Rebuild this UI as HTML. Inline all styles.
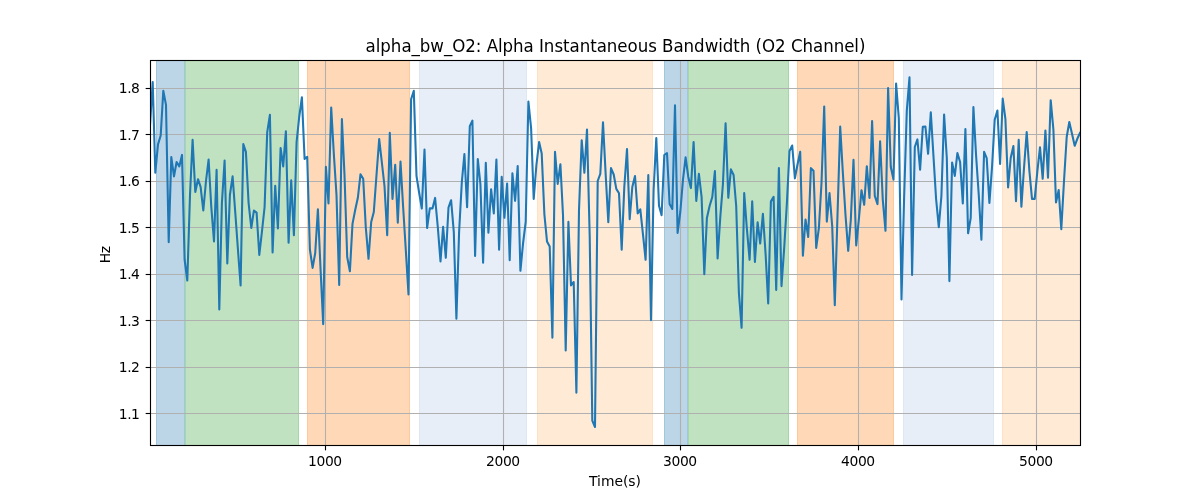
<!DOCTYPE html><html><head><meta charset="utf-8"><title>alpha_bw_O2</title>
<style>html,body{margin:0;padding:0;background:#fff;overflow:hidden}svg{display:block}text{font-family:"DejaVu Sans","Liberation Sans",sans-serif;fill:#000}</style></head><body>
<svg width="1200" height="500" viewBox="0 0 1200 500">
<rect width="1200" height="500" fill="#fff"/>
<rect x="156" y="60.5" width="29" height="385.0" fill="#bcd6e8"/>
<rect x="156" y="60.5" width="1" height="385.0" fill="#1f77b4" fill-opacity="0.17"/>
<rect x="184" y="60.5" width="1" height="385.0" fill="#1f77b4" fill-opacity="0.17"/>
<rect x="185" y="60.5" width="114" height="385.0" fill="#c0e2c0"/>
<rect x="185" y="60.5" width="1" height="385.0" fill="#2ca02c" fill-opacity="0.17"/>
<rect x="298" y="60.5" width="1" height="385.0" fill="#2ca02c" fill-opacity="0.17"/>
<rect x="307" y="60.5" width="103" height="385.0" fill="#ffd9b7"/>
<rect x="307" y="60.5" width="1" height="385.0" fill="#ff7f0e" fill-opacity="0.17"/>
<rect x="409" y="60.5" width="1" height="385.0" fill="#ff7f0e" fill-opacity="0.17"/>
<rect x="419" y="60.5" width="108" height="385.0" fill="#e7eef8"/>
<rect x="419" y="60.5" width="1" height="385.0" fill="#aec7e8" fill-opacity="0.17"/>
<rect x="526" y="60.5" width="1" height="385.0" fill="#aec7e8" fill-opacity="0.17"/>
<rect x="537" y="60.5" width="116" height="385.0" fill="#ffead6"/>
<rect x="537" y="60.5" width="1" height="385.0" fill="#ffbb78" fill-opacity="0.17"/>
<rect x="652" y="60.5" width="1" height="385.0" fill="#ffbb78" fill-opacity="0.17"/>
<rect x="664" y="60.5" width="24" height="385.0" fill="#bcd6e8"/>
<rect x="664" y="60.5" width="1" height="385.0" fill="#1f77b4" fill-opacity="0.17"/>
<rect x="687" y="60.5" width="1" height="385.0" fill="#1f77b4" fill-opacity="0.17"/>
<rect x="688" y="60.5" width="101" height="385.0" fill="#c0e2c0"/>
<rect x="688" y="60.5" width="1" height="385.0" fill="#2ca02c" fill-opacity="0.17"/>
<rect x="788" y="60.5" width="1" height="385.0" fill="#2ca02c" fill-opacity="0.17"/>
<rect x="797" y="60.5" width="97" height="385.0" fill="#ffd9b7"/>
<rect x="797" y="60.5" width="1" height="385.0" fill="#ff7f0e" fill-opacity="0.17"/>
<rect x="893" y="60.5" width="1" height="385.0" fill="#ff7f0e" fill-opacity="0.17"/>
<rect x="903" y="60.5" width="91" height="385.0" fill="#e7eef8"/>
<rect x="903" y="60.5" width="1" height="385.0" fill="#aec7e8" fill-opacity="0.17"/>
<rect x="993" y="60.5" width="1" height="385.0" fill="#aec7e8" fill-opacity="0.17"/>
<rect x="1002" y="60.5" width="78.5" height="385.0" fill="#ffead6"/>
<rect x="1002" y="60.5" width="1" height="385.0" fill="#ffbb78" fill-opacity="0.17"/>
<line x1="325.5" y1="60.5" x2="325.5" y2="445.5" stroke="#b0b0b0" stroke-width="1.11"/>
<line x1="503.5" y1="60.5" x2="503.5" y2="445.5" stroke="#b0b0b0" stroke-width="1.11"/>
<line x1="680.5" y1="60.5" x2="680.5" y2="445.5" stroke="#b0b0b0" stroke-width="1.11"/>
<line x1="858.5" y1="60.5" x2="858.5" y2="445.5" stroke="#b0b0b0" stroke-width="1.11"/>
<line x1="1036.5" y1="60.5" x2="1036.5" y2="445.5" stroke="#b0b0b0" stroke-width="1.11"/>
<line x1="150.5" y1="88.50" x2="1080.5" y2="88.50" stroke="#b0b0b0" stroke-width="1.11"/>
<line x1="150.5" y1="134.50" x2="1080.5" y2="134.50" stroke="#b0b0b0" stroke-width="1.11"/>
<line x1="150.5" y1="181.50" x2="1080.5" y2="181.50" stroke="#b0b0b0" stroke-width="1.11"/>
<line x1="150.5" y1="227.50" x2="1080.5" y2="227.50" stroke="#b0b0b0" stroke-width="1.11"/>
<line x1="150.5" y1="274.50" x2="1080.5" y2="274.50" stroke="#b0b0b0" stroke-width="1.11"/>
<line x1="150.5" y1="320.50" x2="1080.5" y2="320.50" stroke="#b0b0b0" stroke-width="1.11"/>
<line x1="150.5" y1="367.50" x2="1080.5" y2="367.50" stroke="#b0b0b0" stroke-width="1.11"/>
<line x1="150.5" y1="413.50" x2="1080.5" y2="413.50" stroke="#b0b0b0" stroke-width="1.11"/>
<clipPath id="c"><rect x="150.5" y="60.5" width="930.0" height="385.0"/></clipPath>
<polyline clip-path="url(#c)" points="150.0,125.0 152.7,82.0 155.3,172.6 158.0,144.4 160.7,135.5 163.3,90.8 166.0,104.9 168.7,242.1 171.3,157.1 174.0,176.4 176.6,162.0 179.3,166.4 182.0,154.9 184.6,259.5 187.3,280.5 190.0,195.0 192.6,139.8 195.3,192.0 198.0,179.2 200.6,186.9 203.3,210.5 206.0,181.0 208.6,159.5 211.3,207.0 214.0,241.5 216.6,169.9 219.3,309.5 221.9,203.0 224.6,160.5 227.3,263.5 229.9,195.0 232.6,176.4 235.3,213.0 237.9,249.0 240.6,285.5 243.3,144.0 245.9,151.9 248.6,203.0 251.3,228.0 253.9,210.6 256.6,212.6 259.3,255.0 261.9,232.0 264.6,207.0 267.2,132.4 269.9,114.8 272.6,252.5 275.2,185.8 277.9,228.4 280.6,148.0 283.2,166.4 285.9,131.2 288.6,242.8 291.2,180.2 293.9,235.1 296.6,142.0 299.2,117.0 301.9,97.2 304.6,158.9 307.2,156.8 309.9,249.5 312.6,267.9 315.2,253.2 317.9,209.4 320.5,268.0 323.2,324.1 325.9,166.8 328.5,203.4 331.2,107.5 333.9,155.0 336.5,195.0 339.2,285.0 341.9,119.1 344.5,175.0 347.2,257.0 349.9,271.2 352.5,223.9 355.2,210.0 357.9,197.5 360.5,174.2 363.2,178.8 365.8,227.5 368.5,258.8 371.2,222.0 373.8,212.0 376.5,175.0 379.2,139.1 381.8,162.0 384.5,186.0 387.2,235.2 389.8,132.9 392.5,198.9 395.2,164.9 397.8,222.8 400.5,161.5 403.2,208.0 405.8,250.0 408.5,294.5 411.1,99.2 413.8,90.8 416.5,176.0 419.1,192.5 421.8,208.5 424.5,149.5 427.1,228.0 429.8,208.4 432.5,208.4 435.1,197.9 437.8,227.0 440.5,261.5 443.1,226.9 445.8,257.8 448.5,207.5 451.1,200.2 453.8,232.0 456.4,318.8 459.1,232.0 461.8,182.5 464.4,154.0 467.1,207.3 469.8,126.1 472.4,120.6 475.1,255.9 477.8,159.0 480.4,184.0 483.1,262.8 485.8,162.8 488.4,232.8 491.1,189.2 493.8,213.4 496.4,159.5 499.1,249.6 501.7,176.8 504.4,217.8 507.1,183.5 509.7,260.2 512.4,173.4 515.1,200.8 517.7,166.1 520.4,270.8 523.1,243.0 525.7,222.0 528.4,101.6 531.1,128.0 533.7,198.9 536.4,165.0 539.1,142.1 541.7,153.5 544.4,214.5 547.0,241.4 549.7,246.4 552.4,337.6 555.0,151.8 557.7,183.9 560.4,164.2 563.0,215.0 565.7,350.5 568.4,221.9 571.0,285.4 573.7,282.0 576.4,392.6 579.0,210.0 581.7,140.2 584.4,172.8 587.0,129.5 589.7,236.0 592.3,420.6 595.0,427.0 597.7,181.0 600.3,173.9 603.0,122.4 605.7,175.0 608.3,222.1 611.0,168.1 613.7,174.5 616.3,188.9 619.0,193.2 621.7,249.8 624.3,187.0 627.0,149.0 629.7,219.2 632.3,187.0 635.0,176.0 637.7,213.4 640.3,209.4 643.0,234.6 645.6,259.8 648.3,175.0 651.0,320.1 653.6,190.0 656.3,138.0 659.0,205.8 661.6,215.2 664.3,155.0 667.0,153.0 669.6,203.9 672.3,209.0 675.0,105.2 677.6,232.9 680.3,212.0 683.0,179.5 685.6,157.4 688.3,177.0 690.9,188.1 693.6,142.1 696.3,200.9 698.9,173.8 701.6,197.0 704.3,274.1 706.9,218.0 709.6,206.0 712.3,197.0 714.9,171.1 717.6,258.4 720.3,217.0 722.9,184.5 725.6,123.2 728.3,197.8 730.9,169.4 733.6,175.0 736.2,206.0 738.9,293.0 741.6,327.8 744.2,193.1 746.9,229.0 749.6,259.8 752.2,201.2 754.9,262.0 757.6,222.2 760.2,243.5 762.9,213.8 765.6,254.0 768.2,303.5 770.9,201.4 773.6,196.9 776.2,289.9 778.9,168.1 781.5,286.1 784.2,247.8 786.9,203.0 789.5,151.0 792.2,145.5 794.9,178.4 797.5,164.5 800.2,151.8 802.9,255.8 805.5,219.5 808.2,237.0 810.9,168.1 813.5,170.8 816.2,247.9 818.9,227.8 821.5,183.0 824.2,106.5 826.8,221.6 829.5,193.1 832.2,226.0 834.8,305.2 837.5,215.0 840.2,126.5 842.8,172.0 845.5,215.0 848.2,250.8 850.8,220.0 853.5,159.9 856.2,245.5 858.8,220.0 861.5,190.2 864.2,204.8 866.8,166.2 869.5,197.9 872.1,121.1 874.8,196.0 877.5,204.1 880.1,141.2 882.8,200.0 885.5,230.8 888.1,88.0 890.8,167.0 893.5,179.6 896.1,83.6 898.8,118.0 901.5,299.5 904.1,198.0 906.8,110.6 909.5,77.4 912.1,274.9 914.8,147.0 917.4,139.4 920.1,169.6 922.8,126.8 925.4,126.5 928.1,153.8 930.8,112.4 933.4,155.0 936.1,199.0 938.8,227.2 941.4,196.0 944.1,114.5 946.8,158.0 949.4,281.1 952.1,162.5 954.8,175.9 957.4,153.1 960.1,162.0 962.8,203.5 965.4,129.0 968.1,233.2 970.7,218.0 973.4,107.1 976.1,155.8 978.7,194.0 981.4,239.8 984.1,151.9 986.7,158.2 989.4,202.9 992.1,166.0 994.7,119.7 997.4,110.5 1000.1,164.0 1002.7,98.6 1005.4,118.8 1008.1,187.5 1010.7,158.0 1013.4,146.1 1016.0,201.3 1018.7,139.9 1021.4,206.6 1024.0,168.0 1026.7,132.0 1029.4,171.0 1032.0,198.9 1034.7,198.9 1037.4,171.0 1040.0,147.4 1042.7,178.8 1045.4,130.5 1048.0,177.8 1050.7,100.2 1053.4,129.5 1056.0,202.5 1058.7,190.0 1061.3,229.2 1064.0,181.0 1066.7,137.0 1069.3,122.0 1072.0,133.8 1074.7,145.8 1077.3,138.8 1080.0,133.0" fill="none" stroke="#1f77b4" stroke-width="2.08" stroke-linejoin="round" stroke-linecap="square"/>
<line x1="325.5" y1="445.5" x2="325.5" y2="450.36" stroke="#000" stroke-width="1.11"/>
<line x1="503.5" y1="445.5" x2="503.5" y2="450.36" stroke="#000" stroke-width="1.11"/>
<line x1="680.5" y1="445.5" x2="680.5" y2="450.36" stroke="#000" stroke-width="1.11"/>
<line x1="858.5" y1="445.5" x2="858.5" y2="450.36" stroke="#000" stroke-width="1.11"/>
<line x1="1036.5" y1="445.5" x2="1036.5" y2="450.36" stroke="#000" stroke-width="1.11"/>
<line x1="145.64" y1="88.50" x2="150.5" y2="88.50" stroke="#000" stroke-width="1.11"/>
<line x1="145.64" y1="134.50" x2="150.5" y2="134.50" stroke="#000" stroke-width="1.11"/>
<line x1="145.64" y1="181.50" x2="150.5" y2="181.50" stroke="#000" stroke-width="1.11"/>
<line x1="145.64" y1="227.50" x2="150.5" y2="227.50" stroke="#000" stroke-width="1.11"/>
<line x1="145.64" y1="274.50" x2="150.5" y2="274.50" stroke="#000" stroke-width="1.11"/>
<line x1="145.64" y1="320.50" x2="150.5" y2="320.50" stroke="#000" stroke-width="1.11"/>
<line x1="145.64" y1="367.50" x2="150.5" y2="367.50" stroke="#000" stroke-width="1.11"/>
<line x1="145.64" y1="413.50" x2="150.5" y2="413.50" stroke="#000" stroke-width="1.11"/>
<rect x="150.5" y="60.5" width="930.0" height="385.0" fill="none" stroke="#000" stroke-width="1.11"/>
<text x="324.9" y="465.7" font-size="13.89" letter-spacing="-0.35" text-anchor="middle">1000</text>
<text x="502.9" y="465.7" font-size="13.89" letter-spacing="-0.35" text-anchor="middle">2000</text>
<text x="679.9" y="465.7" font-size="13.89" letter-spacing="-0.35" text-anchor="middle">3000</text>
<text x="857.9" y="465.7" font-size="13.89" letter-spacing="-0.35" text-anchor="middle">4000</text>
<text x="1035.9" y="465.7" font-size="13.89" letter-spacing="-0.35" text-anchor="middle">5000</text>
<text x="139.5" y="92.8" font-size="13.89" letter-spacing="-0.45" text-anchor="end">1.8</text>
<text x="139.5" y="139.8" font-size="13.89" letter-spacing="-0.45" text-anchor="end">1.7</text>
<text x="139.5" y="185.8" font-size="13.89" letter-spacing="-0.45" text-anchor="end">1.6</text>
<text x="139.5" y="232.8" font-size="13.89" letter-spacing="-0.45" text-anchor="end">1.5</text>
<text x="139.5" y="278.8" font-size="13.89" letter-spacing="-0.45" text-anchor="end">1.4</text>
<text x="139.5" y="325.8" font-size="13.89" letter-spacing="-0.45" text-anchor="end">1.3</text>
<text x="139.5" y="371.8" font-size="13.89" letter-spacing="-0.45" text-anchor="end">1.2</text>
<text x="139.5" y="418.8" font-size="13.89" letter-spacing="-0.45" text-anchor="end">1.1</text>
<text transform="translate(615.5,51.9) scale(1,1.1)" x="0" y="0" font-size="16.67" letter-spacing="-0.05" text-anchor="middle">alpha_bw_O2: Alpha Instantaneous Bandwidth (O2 Channel)</text>
<text x="615" y="485.5" font-size="13.89" text-anchor="middle">Time(s)</text>
<text transform="translate(110,254.8) rotate(-90)" font-size="13.89" letter-spacing="-0.4" text-anchor="middle">Hz</text>
</svg></body></html>
